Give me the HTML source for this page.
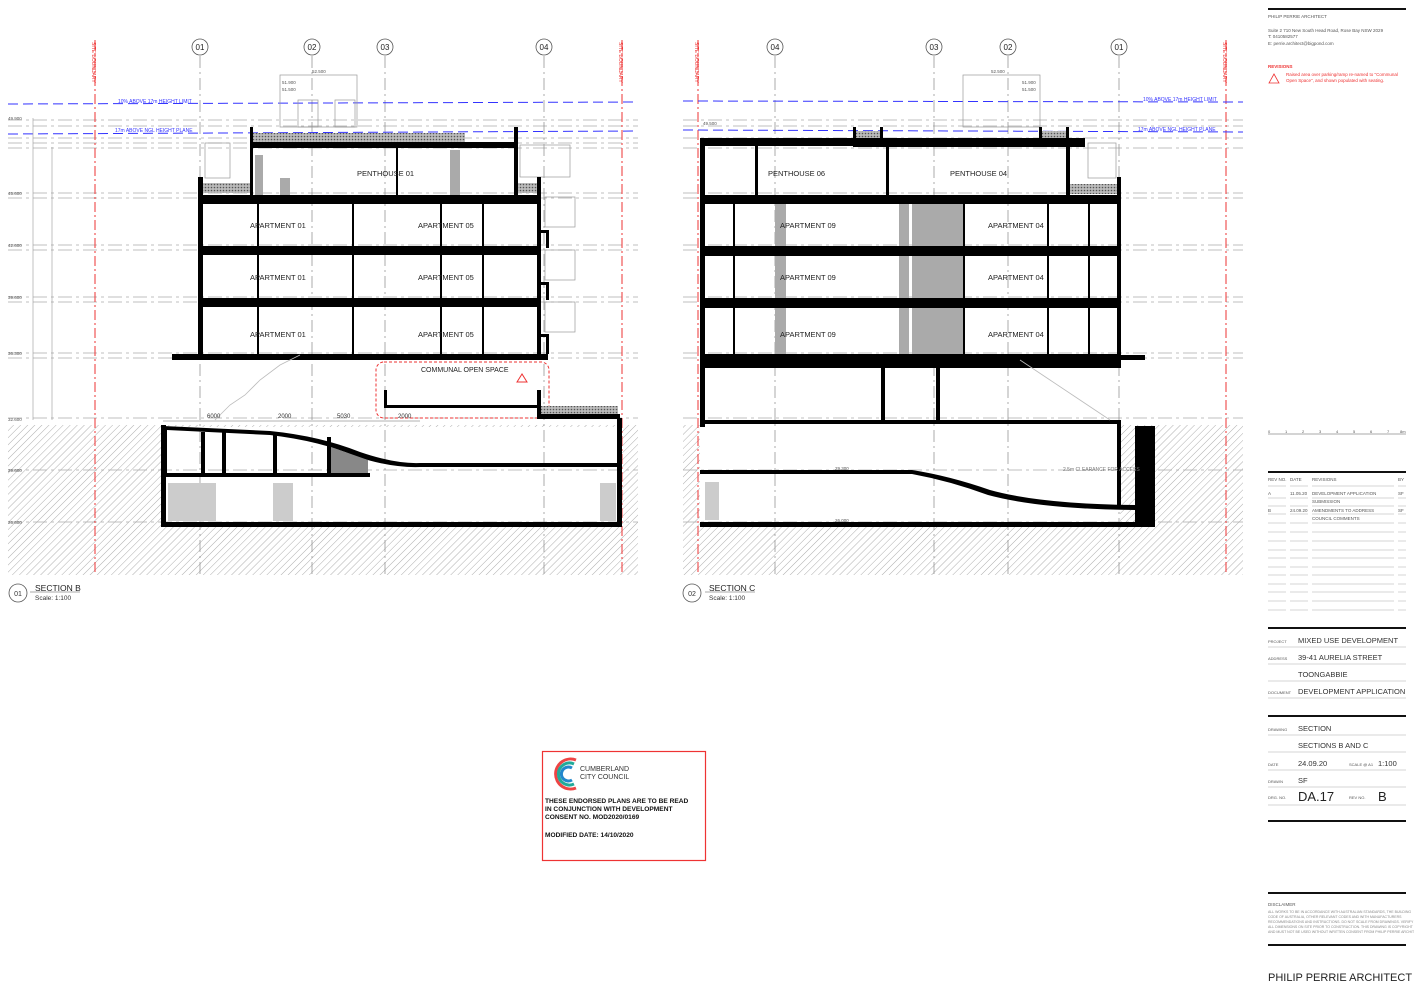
<!DOCTYPE html>
<html><head><meta charset="utf-8"><style>
html,body{margin:0;padding:0;background:#fff}
svg{display:block}
text{font-family:"Liberation Sans",sans-serif}
</style></head><body>
<svg width="1414" height="989" viewBox="0 0 1414 989" xmlns="http://www.w3.org/2000/svg">
<defs>
<pattern id="h" width="5" height="5" patternUnits="userSpaceOnUse" patternTransform="rotate(45)"><line x1="0" y1="0" x2="0" y2="5" stroke="#999" stroke-width="0.8"/></pattern>
<pattern id="g" width="3" height="3" patternUnits="userSpaceOnUse"><rect width="3" height="3" fill="#bbb"/><circle cx="1.5" cy="1.5" r="0.8" fill="#555"/></pattern>
</defs>
<rect width="1414" height="989" fill="#fff"/>

<!-- ===== LEFT SECTION B ===== -->
<rect x="8" y="425" width="630" height="150" fill="url(#h)"/>
<rect x="163" y="427" width="457" height="98" fill="#fff"/>
<g stroke="#aaa" stroke-width="0.8" stroke-dasharray="14 4 3 4">
<line x1="8" y1="120" x2="638" y2="120"/><line x1="8" y1="126" x2="638" y2="126"/><line x1="8" y1="138" x2="638" y2="138"/><line x1="8" y1="143" x2="638" y2="143"/><line x1="8" y1="148" x2="638" y2="148"/>
<line x1="8" y1="193" x2="638" y2="193"/><line x1="8" y1="198" x2="638" y2="198"/><line x1="8" y1="245" x2="638" y2="245"/><line x1="8" y1="250" x2="638" y2="250"/>
<line x1="8" y1="297" x2="638" y2="297"/><line x1="8" y1="302" x2="638" y2="302"/><line x1="8" y1="353" x2="638" y2="353"/><line x1="8" y1="358" x2="638" y2="358"/>
<line x1="8" y1="418" x2="638" y2="418"/><line x1="8" y1="470" x2="638" y2="470"/><line x1="8" y1="522" x2="638" y2="522"/>
</g>
<g stroke="#888" stroke-width="0.7" stroke-dasharray="12 4 2 4">
<line x1="200" y1="56" x2="200" y2="575"/><line x1="312" y1="56" x2="312" y2="575"/><line x1="385" y1="56" x2="385" y2="575"/><line x1="544" y1="56" x2="544" y2="575"/>
</g>
<g stroke="#e33" stroke-width="1" stroke-dasharray="10 3 2 3"><line x1="95" y1="40" x2="95" y2="575"/><line x1="622" y1="40" x2="622" y2="575"/></g>
<text x="0" y="0" font-size="5" fill="#e33" transform="translate(92,42) rotate(90)">SITE BOUNDARY</text>
<text x="0" y="0" font-size="5" fill="#e33" transform="translate(619,42) rotate(90)">SITE BOUNDARY</text>
<g stroke="#33f" stroke-width="1" stroke-dasharray="10 5"><line x1="8" y1="104" x2="638" y2="102"/><line x1="8" y1="134" x2="638" y2="131"/></g>
<text x="118" y="103" font-size="5" fill="#33f">10% ABOVE 17m HEIGHT LIMIT</text>
<text x="115" y="132" font-size="5" fill="#33f">17m ABOVE NGL HEIGHT PLANE</text>
<g stroke="#999" stroke-width="0.6"><line x1="33" y1="118" x2="33" y2="420"/><line x1="52" y1="147" x2="52" y2="420"/></g>
<g font-size="4.5" fill="#555"><text x="8" y="120">49.900</text><text x="8" y="195">45.600</text><text x="8" y="247">42.600</text><text x="8" y="299">39.600</text><text x="8" y="355">36.300</text><text x="8" y="421">32.600</text><text x="8" y="472">29.600</text><text x="8" y="524">26.600</text></g>
<g fill="none" stroke="#999" stroke-width="0.7"><rect x="280" y="75" width="77" height="52"/><rect x="298" y="100" width="20" height="27"/><rect x="335" y="100" width="20" height="27"/><rect x="205" y="143" width="25" height="35"/><rect x="520" y="145" width="50" height="32"/><rect x="545" y="197" width="30" height="30"/><rect x="545" y="250" width="30" height="30"/><rect x="545" y="302" width="30" height="30"/></g>
<text x="282" y="84" font-size="4.5" fill="#555">51.900</text><text x="282" y="91" font-size="4.5" fill="#555">51.500</text><text x="312" y="73" font-size="4.5" fill="#555">52.500</text>
<rect x="253" y="133" width="212" height="9" fill="url(#g)"/>
<rect x="250" y="127" width="3" height="70" fill="#000"/><rect x="514" y="127" width="4" height="70" fill="#000"/>
<rect x="250" y="142" width="268" height="6" fill="#000"/>
<rect x="450" y="150" width="10" height="45" fill="#aaa"/><rect x="255" y="155" width="8" height="40" fill="#aaa"/><rect x="280" y="178" width="10" height="17" fill="#aaa"/>
<rect x="396" y="148" width="2" height="48" fill="#000"/>
<rect x="202" y="183" width="48" height="10" fill="url(#g)"/><rect x="518" y="183" width="20" height="10" fill="url(#g)"/>
<rect x="198" y="177" width="5" height="180" fill="#000"/><rect x="537" y="177" width="4" height="180" fill="#000"/>
<rect x="198" y="195" width="343" height="9" fill="#000"/>
<rect x="198" y="246" width="343" height="9" fill="#000"/>
<rect x="198" y="298" width="343" height="9" fill="#000"/>
<rect x="172" y="354" width="376" height="6" fill="#000"/>
<g fill="#000"><rect x="352" y="204" width="2" height="150"/><rect x="440" y="204" width="2" height="150"/><rect x="482" y="204" width="2" height="150"/><rect x="257" y="204" width="2" height="150"/></g>
<g fill="#000"><rect x="537" y="230" width="12" height="3"/><rect x="537" y="282" width="12" height="3"/><rect x="537" y="334" width="12" height="3"/><rect x="546" y="230" width="3" height="18"/><rect x="546" y="282" width="3" height="18"/><rect x="546" y="334" width="3" height="20"/></g>
<g font-size="7.5" fill="#222"><text x="357" y="176">PENTHOUSE 01</text><text x="250" y="228">APARTMENT 01</text><text x="418" y="228">APARTMENT 05</text><text x="250" y="280">APARTMENT 01</text><text x="418" y="280">APARTMENT 05</text><text x="250" y="337">APARTMENT 01</text><text x="418" y="337">APARTMENT 05</text></g>
<polyline points="215,420 230,405 245,395 260,380 280,365 300,355" fill="none" stroke="#bbb" stroke-width="0.8"/>
<rect x="376" y="362" width="173" height="56" rx="8" fill="none" stroke="#e33" stroke-width="1" stroke-dasharray="3 2"/>
<text x="421" y="372" font-size="7" fill="#222">COMMUNAL OPEN SPACE</text>
<polygon points="522,374 517,382 527,382" fill="none" stroke="#e33"/>
<rect x="384" y="390" width="3" height="18" fill="#000"/><rect x="537" y="390" width="4" height="28" fill="#000"/>
<rect x="384" y="405" width="157" height="3" fill="#000"/>
<rect x="541" y="406" width="77" height="8" fill="url(#g)"/>
<rect x="537" y="414" width="83" height="5" fill="#000"/>
<path d="M163 426 L270 431 Q320 436 360 452 Q395 464 420 463 L620 463 L620 467 L420 467 Q390 468 355 456 Q320 441 270 435 L167 430 L167 473 L370 473 L370 477 L163 477 Z" fill="#000"/>
<rect x="161" y="425" width="5" height="102" fill="#000"/><rect x="617" y="418" width="5" height="109" fill="#000"/>
<rect x="161" y="522" width="461" height="5" fill="#000"/>
<g fill="#000"><rect x="201" y="432" width="4" height="42"/><rect x="222" y="432" width="4" height="42"/><rect x="273" y="433" width="4" height="41"/><rect x="327" y="437" width="4" height="37"/></g>
<polygon points="331,447 368,460 368,473 331,473" fill="#888"/>
<g fill="#ccc"><rect x="168" y="483" width="48" height="38"/><rect x="273" y="483" width="20" height="38"/><rect x="600" y="483" width="16" height="38"/></g>
<g font-size="6" fill="#333"><text x="207" y="418">6000</text><text x="278" y="418">2000</text><text x="337" y="418">5030</text><text x="398" y="418">2000</text></g>
<line x1="163" y1="421" x2="420" y2="421" stroke="#666" stroke-width="0.5"/>
<g fill="#fff" stroke="#555" stroke-width="0.8"><circle cx="200" cy="47" r="8"/><circle cx="312" cy="47" r="8"/><circle cx="385" cy="47" r="8"/><circle cx="544" cy="47" r="8"/></g>
<g font-size="8" fill="#222" text-anchor="middle"><text x="200" y="50">01</text><text x="312" y="50">02</text><text x="385" y="50">03</text><text x="544" y="50">04</text></g>
<circle cx="18" cy="593" r="9" fill="none" stroke="#555" stroke-width="0.8"/><text x="18" y="596" font-size="7" text-anchor="middle" fill="#333">01</text>
<line x1="30" y1="592" x2="80" y2="592" stroke="#555" stroke-width="0.6"/>
<text x="35" y="591" font-size="8.5" fill="#222">SECTION B</text><text x="35" y="600" font-size="6.5" fill="#333">Scale: 1:100</text>

<!-- ===== RIGHT SECTION C ===== -->
<rect x="683" y="425" width="560" height="150" fill="url(#h)"/>
<rect x="700" y="424" width="420" height="101" fill="#fff"/>
<g stroke="#aaa" stroke-width="0.8" stroke-dasharray="14 4 3 4">
<line x1="683" y1="120" x2="1243" y2="120"/><line x1="683" y1="126" x2="1243" y2="126"/><line x1="683" y1="138" x2="1243" y2="138"/><line x1="683" y1="148" x2="1243" y2="148"/>
<line x1="683" y1="193" x2="1243" y2="193"/><line x1="683" y1="198" x2="1243" y2="198"/><line x1="683" y1="245" x2="1243" y2="245"/><line x1="683" y1="250" x2="1243" y2="250"/>
<line x1="683" y1="297" x2="1243" y2="297"/><line x1="683" y1="302" x2="1243" y2="302"/><line x1="683" y1="353" x2="1243" y2="353"/><line x1="683" y1="358" x2="1243" y2="358"/>
<line x1="683" y1="418" x2="1243" y2="418"/><line x1="683" y1="470" x2="1243" y2="470"/><line x1="683" y1="522" x2="1243" y2="522"/>
</g>
<g stroke="#888" stroke-width="0.7" stroke-dasharray="12 4 2 4">
<line x1="775" y1="56" x2="775" y2="575"/><line x1="934" y1="56" x2="934" y2="575"/><line x1="1008" y1="56" x2="1008" y2="575"/><line x1="1119" y1="56" x2="1119" y2="575"/>
</g>
<g stroke="#e33" stroke-width="1" stroke-dasharray="10 3 2 3"><line x1="698" y1="40" x2="698" y2="575"/><line x1="1226" y1="40" x2="1226" y2="575"/></g>
<text x="0" y="0" font-size="5" fill="#e33" transform="translate(695,42) rotate(90)">SITE BOUNDARY</text>
<text x="0" y="0" font-size="5" fill="#e33" transform="translate(1223,42) rotate(90)">SITE BOUNDARY</text>
<g stroke="#33f" stroke-width="1" stroke-dasharray="10 5"><line x1="683" y1="101" x2="1243" y2="102"/><line x1="683" y1="130" x2="1243" y2="132"/></g>
<text x="1143" y="101" font-size="5" fill="#33f">10% ABOVE 17m HEIGHT LIMIT</text>
<text x="1138" y="131" font-size="5" fill="#33f">17m ABOVE NGL HEIGHT PLANE</text>
<g fill="none" stroke="#999" stroke-width="0.7"><rect x="963" y="75" width="77" height="52"/><rect x="1088" y="143" width="28" height="35"/></g>
<text x="991" y="73" font-size="4.5" fill="#555">52.500</text><text x="1022" y="84" font-size="4.5" fill="#555">51.900</text><text x="1022" y="91" font-size="4.5" fill="#555">51.500</text>
<text x="703" y="125" font-size="4.5" fill="#555">49.500</text>
<rect x="856" y="131" width="24" height="9" fill="url(#g)"/><rect x="1042" y="131" width="25" height="9" fill="url(#g)"/>
<rect x="853" y="127" width="3" height="15" fill="#000"/><rect x="880" y="127" width="3" height="15" fill="#000"/><rect x="1039" y="127" width="3" height="15" fill="#000"/><rect x="1066" y="127" width="3" height="15" fill="#000"/>
<!-- grey cores behind slabs -->
<g fill="#aaa"><rect x="775" y="204" width="11" height="150"/><rect x="899" y="204" width="10" height="150"/><rect x="912" y="204" width="51" height="150"/></g>
<rect x="700" y="138" width="5" height="289" fill="#000"/>
<rect x="700" y="138" width="155" height="8" fill="#000"/><rect x="853" y="138" width="232" height="9" fill="#000"/>
<rect x="755" y="146" width="3" height="50" fill="#000"/><rect x="886" y="146" width="3" height="50" fill="#000"/>
<rect x="1066" y="146" width="4" height="50" fill="#000"/>
<rect x="1070" y="184" width="48" height="10" fill="url(#g)"/>
<rect x="1117" y="177" width="4" height="190" fill="#000"/>
<g fill="#000"><rect x="700" y="195" width="421" height="9"/><rect x="700" y="246" width="421" height="10"/><rect x="700" y="298" width="421" height="10"/><rect x="700" y="354" width="421" height="14"/><rect x="1117" y="355" width="28" height="5"/></g>
<g fill="#000"><rect x="733" y="204" width="2" height="150"/><rect x="1047" y="204" width="2" height="150"/><rect x="1088" y="204" width="2" height="150"/><rect x="963" y="204" width="2" height="150"/></g>
<g font-size="7.5" fill="#222"><text x="768" y="176">PENTHOUSE 06</text><text x="950" y="176">PENTHOUSE 04</text><text x="780" y="228">APARTMENT 09</text><text x="988" y="228">APARTMENT 04</text><text x="780" y="280">APARTMENT 09</text><text x="988" y="280">APARTMENT 04</text><text x="780" y="337">APARTMENT 09</text><text x="988" y="337">APARTMENT 04</text></g>
<rect x="881" y="368" width="4" height="52" fill="#000"/><rect x="936" y="368" width="4" height="52" fill="#000"/>
<rect x="700" y="420" width="421" height="4" fill="#000"/><rect x="1117" y="420" width="4" height="8" fill="#000"/>
<polyline points="1020,360 1050,380 1080,400 1110,420" fill="none" stroke="#bbb" stroke-width="0.8"/>
<path d="M700 470 L912 470 Q950 476 990 490 Q1040 504 1135 505 L1135 510 Q1040 509 988 495 Q950 481 912 474 L700 474 Z" fill="#000"/>
<rect x="1117" y="424" width="4" height="82" fill="#000"/>
<rect x="1135" y="426" width="20" height="101" fill="#000"/>
<rect x="700" y="522" width="455" height="5" fill="#000"/>
<rect x="705" y="482" width="14" height="38" fill="#ccc"/>
<g font-size="4.5" fill="#555"><text x="835" y="470">29.300</text><text x="835" y="522">26.000</text></g>
<text x="1063" y="471" font-size="5" fill="#777">2.5m CLEARANCE FOR ACCESS</text>
<g fill="#fff" stroke="#555" stroke-width="0.8"><circle cx="775" cy="47" r="8"/><circle cx="934" cy="47" r="8"/><circle cx="1008" cy="47" r="8"/><circle cx="1119" cy="47" r="8"/></g>
<g font-size="8" fill="#222" text-anchor="middle"><text x="775" y="50">04</text><text x="934" y="50">03</text><text x="1008" y="50">02</text><text x="1119" y="50">01</text></g>
<circle cx="692" cy="593" r="9" fill="none" stroke="#555" stroke-width="0.8"/><text x="692" y="596" font-size="7" text-anchor="middle" fill="#333">02</text>
<line x1="705" y1="592" x2="755" y2="592" stroke="#555" stroke-width="0.6"/>
<text x="709" y="591" font-size="8.5" fill="#222">SECTION C</text><text x="709" y="600" font-size="6.5" fill="#333">Scale: 1:100</text>

<!-- ===== STAMP ===== -->
<rect x="542.5" y="751.5" width="163" height="109" fill="#fff" stroke="#e33" stroke-width="1.2"/>
<path d="M576 760 A15 15 0 1 0 576 788" fill="none" stroke="#e44" stroke-width="3"/>
<path d="M574 764 A11 11 0 1 0 574 784" fill="none" stroke="#2a9" stroke-width="3"/>
<path d="M572 768 A7 7 0 1 0 572 780" fill="none" stroke="#28c" stroke-width="3"/>
<text x="580" y="771" font-size="7" fill="#333">CUMBERLAND</text><text x="580" y="779" font-size="7" fill="#333">CITY COUNCIL</text>
<g font-size="6.6" font-weight="bold" fill="#111"><text x="545" y="803">THESE ENDORSED PLANS ARE TO BE READ</text><text x="545" y="811">IN CONJUNCTION WITH DEVELOPMENT</text><text x="545" y="819">CONSENT NO. MOD2020/0169</text><text x="545" y="837">MODIFIED DATE: 14/10/2020</text></g>

<!-- ===== TITLE BLOCK ===== -->
<rect x="1268" y="8" width="138" height="2" fill="#111"/>
<g font-size="4.5" fill="#555"><text x="1268" y="18">PHILIP PERRIE ARCHITECT</text><text x="1268" y="32">Suite 2 710 New South Head Road, Rose Bay NSW 2029</text><text x="1268" y="38">T: 0410582577</text><text x="1268" y="45">E: perrie.architect@bigpond.com</text></g>
<text x="1268" y="68" font-size="4.5" fill="#e33" font-weight="bold">REVISIONS</text>
<polygon points="1274,74 1269,83 1279,83" fill="none" stroke="#e33" stroke-width="0.8"/>
<text x="1286" y="76" font-size="4.5" fill="#e33">Raised area over parking/ramp re-named to "Communal</text>
<text x="1286" y="82" font-size="4.5" fill="#e33">Open Space", and shown populated with seating.</text>
<g stroke="#555" stroke-width="0.6"><line x1="1268" y1="434" x2="1406" y2="434"/></g>
<g font-size="4" fill="#555"><text x="1268" y="433">0</text><text x="1285" y="433">1</text><text x="1302" y="433">2</text><text x="1319" y="433">3</text><text x="1336" y="433">4</text><text x="1353" y="433">5</text><text x="1370" y="433">6</text><text x="1387" y="433">7</text><text x="1400" y="433">8m</text></g>
<rect x="1268" y="471" width="138" height="2" fill="#111"/>
<g font-size="4.5" fill="#555"><text x="1268" y="481">REV NO.</text><text x="1290" y="481">DATE</text><text x="1312" y="481">REVISIONS</text><text x="1398" y="481">BY</text>
<text x="1268" y="495">A</text><text x="1290" y="495">11.05.20</text><text x="1312" y="495">DEVELOPMENT APPLICATION</text><text x="1398" y="495">SF</text><text x="1312" y="503">SUBMISSION</text>
<text x="1268" y="512">B</text><text x="1290" y="512">24.09.20</text><text x="1312" y="512">AMENDMENTS TO ADDRESS</text><text x="1398" y="512">SF</text><text x="1312" y="520">COUNCIL COMMENTS</text></g>
<g stroke="#aaa" stroke-width="0.6">
<path d="M1268 486h18M1290 486h18M1312 486h82M1398 486h8 M1268 498h18M1290 498h18M1312 498h82M1398 498h8 M1268 506h18M1290 506h18M1312 506h82M1398 506h8 M1268 514h18M1290 514h18M1312 514h82M1398 514h8 M1268 523h18M1290 523h18M1312 523h82M1398 523h8 M1268 532h18M1290 532h18M1312 532h82M1398 532h8 M1268 541h18M1290 541h18M1312 541h82M1398 541h8 M1268 550h18M1290 550h18M1312 550h82M1398 550h8 M1268 558h18M1290 558h18M1312 558h82M1398 558h8 M1268 567h18M1290 567h18M1312 567h82M1398 567h8 M1268 575h18M1290 575h18M1312 575h82M1398 575h8 M1268 584h18M1290 584h18M1312 584h82M1398 584h8 M1268 592h18M1290 592h18M1312 592h82M1398 592h8 M1268 601h18M1290 601h18M1312 601h82M1398 601h8 M1268 610h18M1290 610h18M1312 610h82M1398 610h8"/>
</g>
<rect x="1268" y="627" width="138" height="2" fill="#111"/>
<g font-size="4" fill="#555"><text x="1268" y="643">PROJECT</text><text x="1268" y="660">ADDRESS</text><text x="1268" y="694">DOCUMENT</text><text x="1268" y="731">DRAWING</text><text x="1268" y="766">DATE</text><text x="1349" y="766">SCALE @ A1</text><text x="1268" y="783">DRAWN</text><text x="1268" y="799">DRG. NO.</text><text x="1349" y="799">REV NO.</text></g>
<g font-size="7.5" fill="#333"><text x="1298" y="643">MIXED USE DEVELOPMENT</text><text x="1298" y="660">39-41 AURELIA STREET</text><text x="1298" y="677">TOONGABBIE</text><text x="1298" y="694">DEVELOPMENT APPLICATION</text><text x="1298" y="731">SECTION</text><text x="1298" y="748">SECTIONS B AND C</text><text x="1298" y="766">24.09.20</text><text x="1378" y="766">1:100</text><text x="1298" y="783">SF</text></g>
<text x="1298" y="801" font-size="13" fill="#222">DA.17</text><text x="1378" y="801" font-size="13" fill="#222">B</text>
<g stroke="#aaa" stroke-width="0.6"><line x1="1268" y1="647" x2="1406" y2="647"/><line x1="1268" y1="664" x2="1406" y2="664"/><line x1="1268" y1="681" x2="1406" y2="681"/><line x1="1268" y1="698" x2="1406" y2="698"/>
<line x1="1268" y1="735" x2="1406" y2="735"/><line x1="1268" y1="752" x2="1406" y2="752"/><line x1="1268" y1="770" x2="1406" y2="770"/><line x1="1268" y1="787" x2="1406" y2="787"/><line x1="1268" y1="805" x2="1406" y2="805"/></g>
<rect x="1268" y="715" width="138" height="2" fill="#111"/>
<rect x="1268" y="820" width="138" height="2" fill="#111"/>
<rect x="1268" y="892" width="138" height="2" fill="#111"/>
<text x="1268" y="906" font-size="4.5" fill="#555">DISCLAIMER</text>
<g font-size="3.5" fill="#888"><text x="1268" y="913">ALL WORKS TO BE IN ACCORDANCE WITH AUSTRALIAN STANDARDS, THE BUILDING</text><text x="1268" y="918">CODE OF AUSTRALIA, OTHER RELEVANT CODES AND WITH MANUFACTURERS</text><text x="1268" y="923">RECOMMENDATIONS AND INSTRUCTIONS. DO NOT SCALE FROM DRAWINGS. VERIFY</text><text x="1268" y="928">ALL DIMENSIONS ON SITE PRIOR TO CONSTRUCTION. THIS DRAWING IS COPYRIGHT</text><text x="1268" y="933">AND MUST NOT BE USED WITHOUT WRITTEN CONSENT FROM PHILIP PERRIE ARCHITECT</text></g>
<rect x="1268" y="944" width="138" height="2" fill="#111"/>
<text x="1268" y="981" font-size="11" fill="#222">PHILIP PERRIE ARCHITECT</text>
</svg>
</body></html>
